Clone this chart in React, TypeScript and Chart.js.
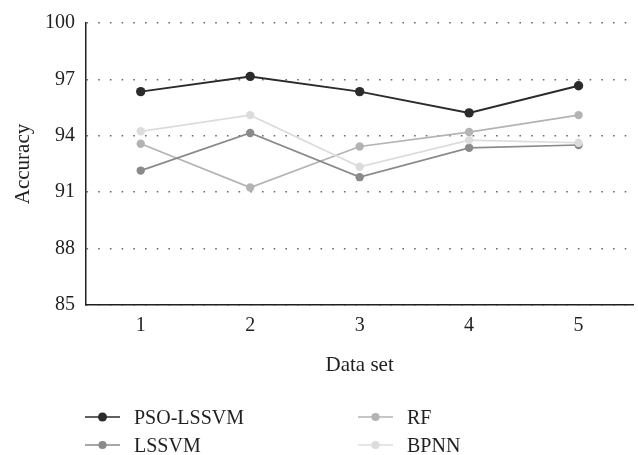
import React, { useEffect, useRef } from "react";
import { Chart, registerables } from "chart.js";
Chart.register(...registerables);

const categories = ["1", "2", "3", "4", "5"];
const psoLssvm = [96.35, 97.16, 96.35, 95.22, 96.66];
const lssvm = [92.15, 94.15, 91.8, 93.36, 93.51];
const rf = [93.58, 91.25, 93.43, 94.2, 95.1];
const bpnn = [94.24, 95.1, 92.35, 93.77, 93.63];
const yTicks = [85, 88, 91, 94, 97, 100];
const seriesNames = ["PSO-LSSVM", "LSSVM", "RF", "BPNN"];
const seriesColors = ["#2b2b2b", "#8a8a8a", "#b3b3b3", "#dcdcdc"];
const seriesData = [psoLssvm, lssvm, rf, bpnn];
const drawOrder = [0, 2, 3, 1];

const FONT = '"Liberation Serif", "Times New Roman", serif';
const TEXT = "#231f20";

export default function App() {
  const ref = useRef<HTMLCanvasElement>(null);
  useEffect(() => {
    if (!ref.current) return;
    const chart = new Chart(ref.current, {
      type: "line",
      data: {
        labels: categories,
        datasets: seriesData.map((d, i) => ({
          label: seriesNames[i],
          data: d,
          borderColor: seriesColors[i],
          backgroundColor: seriesColors[i],
          pointBackgroundColor: seriesColors[i],
          pointBorderColor: seriesColors[i],
          borderWidth: i === 0 ? 2 : 1.7,
          pointRadius: i === 0 ? 4.7 : 4.2,
          pointBorderWidth: 0,
          tension: 0,
          order: drawOrder[i],
        })),
      },
      options: {
        animation: false,
        responsive: true,
        maintainAspectRatio: false,
        layout: { padding: { left: 0, right: 1, top: 17.3, bottom: 75 } },
        plugins: { legend: { display: false }, tooltip: { enabled: false } },
        scales: {
          x: {
            offset: true,
            grid: { display: false, drawTicks: false },
            border: { display: true, color: "#231f20", width: 1.5 },
            ticks: { color: TEXT, font: { family: FONT, size: 20 }, padding: 9 },
            title: {
              display: true,
              text: "Data set",
              color: TEXT,
              font: { family: FONT, size: 21 },
              padding: { top: 0, bottom: 2.4 },
            },
            afterFit: (s: any) => {
              s.height = 75;
            },
          },
          y: {
            min: 85,
            max: 100,
            afterBuildTicks: (s: any) => {
              s.ticks = yTicks.map((v) => ({ value: v }));
            },
            grid: {
              drawTicks: false,
              color: "#6a6a6a",
              lineWidth: 1.6,
            },
            border: { display: true, color: "#231f20", width: 1.5, dash: [1.6, 10.1] },
            ticks: { color: TEXT, font: { family: FONT, size: 20 }, padding: 11 },
            title: {
              display: true,
              text: "Accuracy",
              color: TEXT,
              font: { family: FONT, size: 21 },
              padding: { top: 11, bottom: 0 },
            },
            afterFit: (s: any) => {
              s.width = 86;
            },
          },
        },
      },
    });
    return () => chart.destroy();
  }, []);

  return (
    <div style={{ position: "fixed", left: 0, top: 0, width: 638, height: 455, background: "#fff" }}>
      <canvas ref={ref} style={{ position: "absolute", left: 0, top: 0 }} />
      {seriesNames.map((name, i) => {
        const col = Math.floor(i / 2);
        const row = i % 2;
        const x = col === 0 ? 85 : 358;
        const y = row === 0 ? 417 : 445;
        return (
          <div
            key={name}
            style={{
              position: "absolute",
              left: x,
              top: y - 13,
              height: 26,
              display: "flex",
              alignItems: "center",
              fontFamily: FONT,
              fontSize: 20,
              color: TEXT,
              whiteSpace: "nowrap",
            }}
          >
            <svg width={35} height={12} style={{ marginRight: 14 }}>
              <line x1={0} y1={6} x2={35} y2={6} stroke={seriesColors[i]} strokeWidth={1.7} />
              <circle cx={17.5} cy={6} r={i === 0 ? 4.5 : 4.1} fill={seriesColors[i]} />
            </svg>
            <span>{name}</span>
          </div>
        );
      })}
    </div>
  );
}
